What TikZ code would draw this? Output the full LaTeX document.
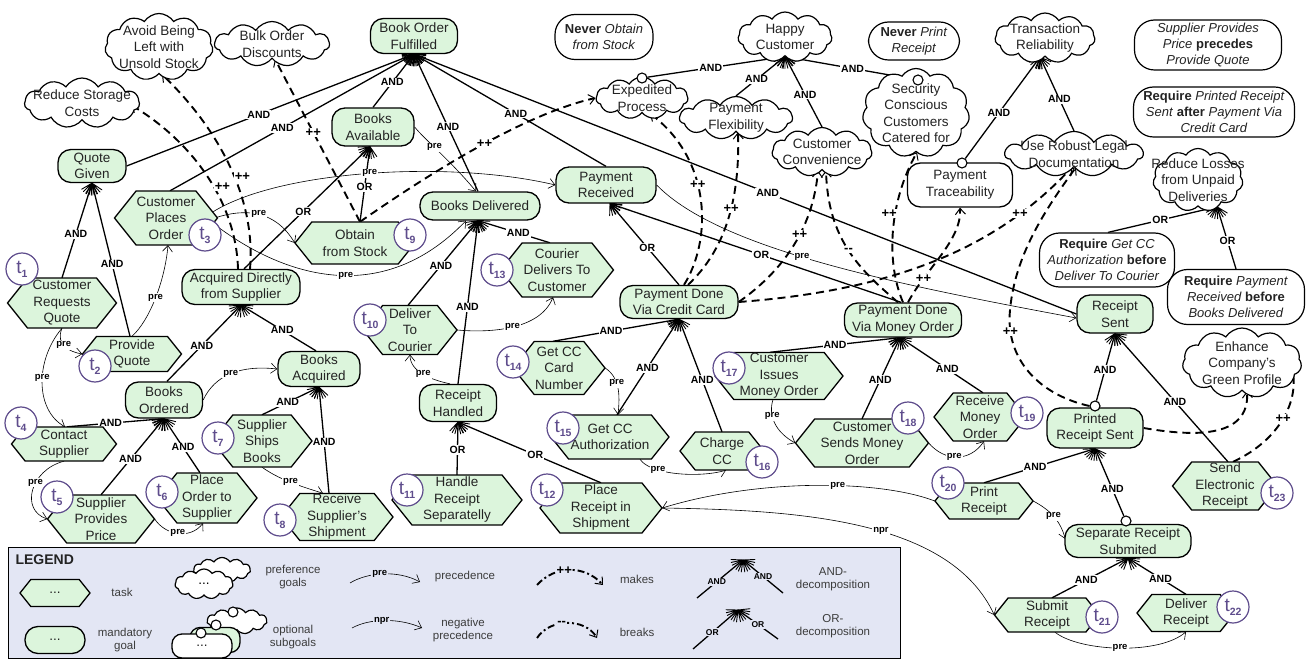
\documentclass[tikz,border=0pt]{standalone}
\usepackage{fontspec}
\setmainfont{Liberation Sans}
\usetikzlibrary{arrows.meta,shapes.symbols,calc}
\pgfdeclarelayer{bg}
\pgfsetlayers{bg,main}
\definecolor{gg}{RGB}{220,245,220}
\definecolor{tp}{RGB}{94,76,140}
\definecolor{lg}{RGB}{227,230,244}
\definecolor{tx}{RGB}{35,35,35}
\definecolor{lt}{RGB}{60,60,60}

\pgfdeclarearrow{
  name = Fan,
  parameters = {\the\pgfarrowlength},
  setup code = {
    \pgfarrowssettipend{0pt}
    \pgfarrowssetlineend{0pt}
    \pgfarrowssetbackend{-\pgfarrowlength}
    \pgfarrowshullpoint{0pt}{0pt}
    \pgfarrowshullpoint{-\pgfarrowlength}{0.8\pgfarrowlength}
    \pgfarrowshullpoint{-\pgfarrowlength}{-0.8\pgfarrowlength}
    \pgfarrowssavethe\pgfarrowlength
  },
  drawing code = {
    \pgfsetdash{}{0pt}
    \pgfsetroundcap
    \pgfsetlinewidth{0.9pt}
    \pgfpathmoveto{\pgfpointorigin}\pgfpathlineto{\pgfpointpolar{138}{\pgfarrowlength}}
    \pgfpathmoveto{\pgfpointorigin}\pgfpathlineto{\pgfpointpolar{152}{\pgfarrowlength}}
    \pgfpathmoveto{\pgfpointorigin}\pgfpathlineto{\pgfpointpolar{166}{\pgfarrowlength}}
    \pgfpathmoveto{\pgfpointorigin}\pgfpathlineto{\pgfpointpolar{194}{\pgfarrowlength}}
    \pgfpathmoveto{\pgfpointorigin}\pgfpathlineto{\pgfpointpolar{208}{\pgfarrowlength}}
    \pgfpathmoveto{\pgfpointorigin}\pgfpathlineto{\pgfpointpolar{222}{\pgfarrowlength}}
    \pgfusepathqstroke
  },
  defaults = {length = 12pt}
}

\tikzset{
  goal/.style={draw, line width=1.3pt, fill=gg, rounded corners=13pt, align=center, inner sep=0pt, text=tx},
  cons/.style={draw, line width=1.2pt, fill=white, rounded corners=20pt, align=center, inner sep=0pt, text=tx, font=\fontsize{13}{16}\selectfont},
  softg/.style={cloud, cloud puffs=11, cloud puff arc=115, cloud ignores aspect, draw, line width=1.2pt, fill=white, inner sep=0pt},
  softtext/.style={align=center, inner sep=0pt, text=tx},
  tasktext/.style={align=center, inner sep=0pt, text=tx},
  taskshape/.style={draw, fill=gg, line width=1.3pt, line join=miter},
  tcirc/.style={circle, draw=tp, line width=1.2pt, fill=white, text=tp, minimum size=32pt, inner sep=0pt},
  optc/.style={circle, draw, fill=white, line width=1.1pt, minimum size=10pt, inner sep=0pt},
  dec/.style={line width=1.3pt, -{Fan[length=12pt]}},
  contr/.style={line width=1.9pt, dash pattern=on 8pt off 5pt, -{Straight Barb[length=6pt,width=10pt,line width=1pt]}},
  prec/.style={line width=0.6pt, -{Straight Barb[length=6pt,width=10pt]}},
  lab/.style={fill=white, inner sep=1pt, font=\fontsize{10.5}{10.5}\selectfont\bfseries},
  labs/.style={inner sep=1pt, font=\fontsize{8.5}{8.5}\selectfont\bfseries},
  prel/.style={fill=white, inner sep=1pt, font=\fontsize{9.5}{9.5}\selectfont\bfseries},
  pl/.style={fill=white, inner sep=0.5pt, font=\fontsize{13}{13}\selectfont\bfseries},
  legtext/.style={align=center, text=lt, font=\fontsize{11.5}{13.5}\selectfont},
}

\newcommand\tsub[1]{{\fontsize{19}{19}\selectfont t}\raisebox{-4pt}{\fontsize{10.5}{10.5}\selectfont\bfseries #1}}
\newcommand\mkhex[6]{%
  \filldraw[taskshape] ({#2-#4/2},{#3}) -- ({#2-#4/2+0.4*#5},{#3-#5/2}) -- ({#2+#4/2-0.4*#5},{#3-#5/2}) -- ({#2+#4/2},{#3}) -- ({#2+#4/2-0.4*#5},{#3+#5/2}) -- ({#2-#4/2+0.4*#5},{#3+#5/2}) -- cycle;
  \node[tasktext,minimum width=#4pt,minimum height=#5pt] (#1) at (#2,#3) {#6};
}
\newcommand\mktask[9]{\mkhex{#1}{#2}{#3}{#4}{#5}{#6}\node[tcirc] (#1c) at (#8,#9) {\tsub{#7}};}
\newcommand\mksoft[6]{%
  \node[softg,minimum width=#4pt,minimum height=#5pt] (#1) at (#2,#3) {};
  \node[softtext] (#1t) at (#2,#3) {#6};
}

\begin{document}
\begin{tikzpicture}[x=1pt,y=-1pt,font=\fontsize{13.5}{16.5}\selectfont]
\useasboundingbox (0,0) rectangle (1311,660);

% ---------- goals
\node[goal,minimum width=87pt,minimum height=35pt] (bof) at (414,36) {Book Order\\Fulfilled};
\node[goal,minimum width=68pt,minimum height=33pt] (qg) at (92,166) {Quote\\Given};
\node[goal,minimum width=82pt,minimum height=38pt] (ba) at (373,127) {Books\\Available};
\node[goal,minimum width=120pt,minimum height=28pt] (bd) at (480,206) {Books Delivered};
\node[goal,minimum width=100pt,minimum height=36pt] (pr) at (606,185) {Payment\\Received};
\node[goal,minimum width=118pt,minimum height=35pt] (ads) at (241,287) {Acquired Directly\\from Supplier};
\node[goal,minimum width=82pt,minimum height=35pt] (bacq) at (319,369) {Books\\Acquired};
\node[goal,minimum width=77pt,minimum height=36pt] (bo) at (164,400) {Books\\Ordered};
\node[goal,minimum width=77pt,minimum height=37pt] (rh) at (458,403) {Receipt\\Handled};
\node[goal,minimum width=118pt,minimum height=33pt] (pcc) at (679,302) {Payment Done\\Via Credit Card};
\node[goal,minimum width=117pt,minimum height=34pt] (pmo) at (903,320) {Payment Done\\Via Money Order};
\node[goal,minimum width=76pt,minimum height=38pt] (rs) at (1115,314) {Receipt\\Sent};
\node[goal,minimum width=96pt,minimum height=40pt] (prs) at (1095,428) {Printed\\Receipt Sent};
\node[goal,minimum width=126pt,minimum height=33pt] (srs) at (1128,541) {Separate Receipt\\Submited};
\node[goal,fill=white,minimum width=105pt,minimum height=44pt] (pt) at (960,185) {Payment\\Traceability};

% ---------- constraints
\node[cons,minimum width=98pt,minimum height=45pt] (c1) at (604,37) {\textbf{Never} \textit{Obtain}\\\textit{from Stock}};
\node[cons,minimum width=91pt,minimum height=38pt] (c2) at (914,41) {\textbf{Never} \textit{Print}\\\textit{Receipt}};
\node[cons,minimum width=147pt,minimum height=50pt] (c3) at (1208,45) {\textit{Supplier Provides}\\\textit{Price} \textbf{precedes}\\\textit{Provide Quote}};
\node[cons,minimum width=161pt,minimum height=50pt] (c4) at (1214,112) {\textbf{Require} \textit{Printed Receipt}\\\textit{Sent} \textbf{after} \textit{Payment Via}\\\textit{Credit Card}};
\node[cons,minimum width=135pt,minimum height=54pt] (c5) at (1107,260) {\textbf{Require} \textit{Get CC}\\\textit{Authorization} \textbf{before}\\\textit{Deliver To Courier}};
\node[cons,minimum width=137pt,minimum height=55pt] (c6) at (1236,297) {\textbf{Require} \textit{Payment}\\\textit{Received} \textbf{before}\\\textit{Books Delivered}};

% ---------- softgoals
\mksoft{sAvoid}{159}{47}{108}{67}{Avoid Being\\Left with\\Unsold Stock}
\mksoft{sBulk}{272}{44}{115}{45}{Bulk Order\\Discounts}
\mksoft{sRsc}{82}{103}{115}{50}{Reduce Storage\\Costs}
\mksoft{sEp}{642}{98}{92}{42}{Expedited\\Process}
\mksoft{sHc}{785}{37}{94}{50}{Happy\\Customer}
\mksoft{sPf}{736}{118}{113}{43}{Payment\\Flexibility}
\mksoft{sCc}{822}{152}{100}{49}{Customer\\Convenience}
\mksoft{sSc}{916}{113}{107}{89}{Security\\Conscious\\Customers\\Catered for}
\mksoft{sTr}{1045}{38}{100}{50}{Transaction\\Reliability}
\mksoft{sUld}{1074}{154}{138}{45}{Use Robust Legal\\Documentation}
\mksoft{sRl}{1198}{180}{90}{63}{Reduce Losses\\from Unpaid\\Deliveries}
\mksoft{sGp}{1242}{363}{119}{70}{Enhance\\Company's\\Green Profile}

% ---------- tasks
\mktask{t1}{62}{303}{109}{50}{Customer\\Requests\\Quote}{1}{22}{269}
\mktask{t2}{132}{354}{99}{35}{Provide\\Quote}{2}{95}{366}
\mktask{t3}{166}{218}{103}{54}{Customer\\Places\\Order}{3}{205}{235}
\mktask{t4}{64}{444}{105}{34}{Contact\\Supplier}{4}{21}{423}
\mktask{t5}{101}{519}{107}{48}{Supplier\\Provides\\Price}{5}{57}{497}
\mktask{t6}{207}{498}{100}{50}{Place\\Order to\\Supplier}{6}{162}{492}
\mktask{t7}{262}{441}{100}{52}{Supplier\\Ships\\Books}{7}{218}{438}
\mktask{t8}{337}{517}{112}{47}{Receive\\Supplier's\\Shipment}{8}{280}{520}
\mktask{t9}{355}{243}{120}{42}{Obtain\\from Stock}{9}{410}{235}
\mktask{t10}{410}{330}{94}{49}{Deliver\\To\\Courier}{10}{370}{320}
\mktask{t11}{457}{500}{130}{50}{Handle\\Receipt\\Separatelly}{11}{407}{490}
\mktask{t12}{601}{508}{122}{50}{Place\\Receipt in\\Shipment}{12}{547}{490}
\mktask{t13}{557}{270}{113}{54}{Courier\\Delivers To\\Customer}{13}{497}{270}
\mktask{t14}{559}{368}{92}{53}{Get CC\\Card\\Number}{14}{513}{362}
\mktask{t15}{610}{437}{118}{44}{Get CC\\Authorization}{15}{563}{428}
\mktask{t16}{722}{451}{84}{38}{Charge\\CC}{16}{762}{462}
\mktask{t17}{779}{376}{128}{47}{Customer\\Issues\\Money Order}{17}{729}{368}
\mktask{t18}{862}{443}{133}{48}{Customer\\Sends Money\\Order}{18}{908}{418}
\mktask{t19}{980}{417}{92}{48}{Receive\\Money\\Order}{19}{1027}{413}
\mktask{t20}{984}{501}{98}{36}{Print\\Receipt}{20}{948}{483}
\mktask{t21}{1047}{615}{105}{34}{Submit\\Receipt}{21}{1102}{617}
\mktask{t22}{1186}{613}{98}{37}{Deliver\\Receipt}{22}{1233}{607}
\mktask{t23}{1225}{486}{105}{48}{Send\\Electronic\\Receipt}{23}{1277}{493}

% ---------- optional markers
\node[optc] (epc) at (642,78) {};
\node[optc] (scc) at (918,80) {};
\node[optc] (ptc) at (962,163) {};
\node[optc] (prsc) at (1095,406) {};
\node[optc] (srsc) at (1126,521) {};

\begin{pgfonlayer}{bg}
% ---------- decompositions
\draw[dec] (qg.east) -- node[lab,pos=0.46]{AND} (bof.south);
\draw[dec] ($(t3.north)+(4,0)$) -- node[lab,pos=0.46]{AND} (bof.south);
\draw[dec] (ba.north) -- node[lab,pos=0.47]{AND} (bof.south);
\draw[dec] ($(bd.north)+(-2,0)$) -- node[lab,pos=0.47]{AND} (bof.south);
\draw[dec] (pr.north) -- node[lab,pos=0.47]{AND} (bof.south);
\draw[dec] (rs.west) -- node[lab,pos=0.466]{AND} (bof.south);
\draw[dec] (t1.north) -- node[lab,pos=0.46]{AND} (qg.south);
\draw[dec] ($(t2.north)+(-2,0)$) -- node[lab,pos=0.47]{AND} (qg.south);
\draw[dec] ($(ads.north)+(3,0)$) -- node[lab,pos=0.47]{OR} ($(ba.south)+(-3,0)$);
\draw[dec] ($(t9.north)+(5,0)$) -- node[lab,pos=0.46]{OR} ($(ba.south)+(-3,0)$);
\draw[dec] ($(bo.north)+(3,0)$) -- node[lab,pos=0.47]{AND} (ads.south);
\draw[dec] ($(bacq.north)+(-3,0)$) -- node[lab,pos=0.45]{AND} (ads.south);
\draw[dec] ($(t4.north)+(3,0)$) -- node[lab,pos=0.45]{AND} (bo.south);
\draw[dec] (t5.north) -- node[lab,pos=0.47]{AND} (bo.south);
\draw[dec] ($(t6.north)+(-7,0)$) -- node[lab,pos=0.47]{AND} (bo.south);
\draw[dec] (t7.north) -- node[lab,pos=0.45]{AND} (bacq.south);
\draw[dec] ($(t8.north)+(-8,0)$) -- node[lab,pos=0.48]{AND} (bacq.south);
\draw[dec] ($(t10.north)+(-2,0)$) -- node[lab,pos=0.47]{AND} ($(bd.south)+(-2,0)$);
\draw[dec] (rh.north) -- node[lab,pos=0.47]{AND} ($(bd.south)+(-2,0)$);
\draw[dec] ($(t13.north)+(-7,0)$) -- node[lab,pos=0.44]{AND} ($(bd.south)+(-2,0)$);
\draw[dec] (t11.north) -- node[lab,pos=0.47]{OR} (rh.south);
\draw[dec] (t12.north) -- node[lab,pos=0.46]{OR} (rh.south);
\draw[dec] (pcc.north) -- node[lab,pos=0.46]{OR} ($(pr.south)+(4,0)$);
\draw[dec] ($(pmo.north)+(-2,0)$) -- node[lab,pos=0.48]{OR} ($(pr.south)+(4,0)$);
\draw[dec] ($(t14.north)+(-6,0)$) -- node[lab,pos=0.46]{AND} (pcc.south);
\draw[dec] ($(t15.north)+(7,0)$) -- node[lab,pos=0.49]{AND} (pcc.south);
\draw[dec] (t16.north) -- node[lab,pos=0.46]{AND} (pcc.south);
\draw[dec] ($(t17.north)+(-9,0)$) -- node[lab,pos=0.5]{AND} ($(pmo.south)+(-3,0)$);
\draw[dec] (t18.north) -- node[lab,pos=0.48]{AND} ($(pmo.south)+(-3,0)$);
\draw[dec] ($(t19.north)+(3,0)$) -- node[lab,pos=0.43]{AND} ($(pmo.south)+(-3,0)$);
\draw[dec] (prsc) -- node[lab,pos=0.46]{AND} (rs.south);
\draw[dec] ($(t23.north)+(3,0)$) -- node[lab,pos=0.47]{AND} (rs.south);
\draw[dec] (t20.north) -- node[lab,pos=0.46]{AND} (prs.south);
\draw[dec] (srsc) -- node[lab,pos=0.4]{AND} (prs.south);
\draw[dec] ($(t21.north)+(5,0)$) -- node[lab,pos=0.45]{AND} (srs.south);
\draw[dec] (t22.north) -- node[lab,pos=0.44]{AND} (srs.south);
\draw[dec] (epc) -- node[lab,pos=0.46]{AND} (sHc.south);
\draw[dec] (sPf.north) -- node[lab,pos=0.42]{AND} (sHc.south);
\draw[dec] (sCc.north) -- node[lab,pos=0.46]{AND} (sHc.south);
\draw[dec] (scc) -- node[lab,pos=0.47]{AND} (sHc.south);
\draw[dec] (ptc) -- node[lab,pos=0.45]{AND} ($(sTr.south)+(-5,0)$);
\draw[dec] (sUld.north) -- node[lab,pos=0.43]{AND} ($(sTr.south)+(-5,0)$);
\draw[dec] ($(c5.north)+(1,0)$) -- node[lab,pos=0.48]{OR} ($(sRl.south)+(19,0)$);
\draw[dec] (c6.north) -- node[lab,pos=0.45]{OR} ($(sRl.south)+(19,0)$);

% ---------- precedence
\draw[prec] (t1.south) .. controls (55,345) and (70,352) .. node[prel,pos=0.45]{pre} (t2.west);
\draw[prec] (t1.south) .. controls (35,360) and (35,410) .. node[prel,pos=0.45]{pre} ($(t4.north)+(1,0)$);
\draw[prec] (t2.north) .. controls (150,320) and (165,280) .. node[prel,pos=0.5]{pre} ($(t3.south)+(2,0)$);
\draw[prec] ($(t3.east)+(-3,0)$) .. controls (245,208) and (275,210) .. node[prel,pos=0.5]{pre} (t9.west);
\draw[prec] ($(t3.east)+(-5,-6)$) .. controls (280,170) and (450,160) .. node[prel,pos=0.5]{pre} (pr.west);
\draw[prec] ($(t3.east)+(-5,5)$) .. controls (280,275) and (380,310) .. node[prel,pos=0.55]{pre} ($(bd.south)+(-14,0)$);
\draw[prec] (ba.east) .. controls (425,140) and (450,160) .. node[prel,pos=0.42]{pre} ($(bd.north)+(-4,0)$);
\draw[prec] (t10.east) .. controls (490,333) and (540,330) .. node[prel,pos=0.5]{pre} ($(t13.south)+(-4,0)$);
\draw[prec] ($(rh.north)+(-8,0)$) .. controls (432,380) and (410,372) .. node[prel,pos=0.5]{pre} (t10.south);
\draw[prec] (t14.east) .. controls (620,378) and (620,395) .. node[prel,pos=0.4]{pre} ($(t15.north)+(8,0)$);
\draw[prec] ($(t15.south)+(30,0)$) .. controls (650,475) and (700,478) .. node[prel,pos=0.3]{pre} ($(t16.south)+(4,0)$);
\draw[prec] ($(t17.south)+(-6,0)$) .. controls (768,415) and (775,432) .. node[prel,pos=0.35]{pre} (t18.west);
\draw[prec] (t18.east) .. controls (945,462) and (970,462) .. node[prel,pos=0.45]{pre} ($(t19.south)+(4,0)$);
\draw[prec] (t20.west) .. controls (880,480) and (760,478) .. node[prel,pos=0.42]{pre} (t12.east);
\draw[prec] (t12.east) .. controls (800,510) and (950,520) .. node[prel,pos=0.55]{npr} (t21.west);
\draw[prec] (t20.east) .. controls (1050,510) and (1060,520) .. node[prel,pos=0.5]{pre} ($(srs.west)+(1,-2)$);
\draw[prec] ($(t21.south)+(8,0)$) .. controls (1080,652) and (1160,655) .. node[prel,pos=0.5]{pre} (t22.south);
\draw[prec] (pr.east) .. controls (720,250) and (900,285) .. node[prel,pos=0.45]{pre} ($(rs.west)+(0,4)$);
\draw[prec] (bo.east) .. controls (215,375) and (240,365) .. node[prel,pos=0.5]{pre} (bacq.west);
\draw[prec] (t7.south) .. controls (280,480) and (300,486) .. node[prel,pos=0.5]{pre} ($(t8.north)+(-14,0)$);
\draw[prec] (t4.south) .. controls (30,470) and (20,510) .. node[prel,pos=0.4]{pre} (t5.west);
\draw[prec] (t5.east) .. controls (165,535) and (190,540) .. node[prel,pos=0.5]{pre} ($(t6.south)+(-4,0)$);

% ---------- contributions
\draw[contr] ($(ads.north)+(-3,0)$) .. controls (236,200) and (190,140) .. node[pl,pos=0.43,xshift=9pt]{++} ($(sRsc.east)+(-9,2)$);
\draw[contr] ($(ads.north)+(9,0)$) .. controls (256,200) and (220,130) .. node[pl,pos=0.45,xshift=8pt]{++} ($(sAvoid.south)+(3,0)$);
\draw[contr] ($(t9.north)+(5,0)$) -- node[pl,pos=0.55]{++} ($(sBulk.south)+(3,0)$);
\draw[contr] ($(t9.north)+(5,0)$) .. controls (420,180) and (520,115) .. node[pl,pos=0.55]{++} (sEp.west);
\draw[contr] ($(pcc.north)+(5,0)$) .. controls (712,240) and (712,160) .. node[pl,pos=0.58]{++} ($(sEp.south)+(8,0)$);
\draw[contr] ($(pcc.north)+(9,0)$) .. controls (725,250) and (740,200) .. node[pl,pos=0.58]{++} ($(sPf.south)+(2,0)$);
\draw[contr] (pcc.east) .. controls (770,280) and (812,240) .. node[pl,pos=0.64]{++} ($(sCc.south)+(-4,0)$);
\draw[contr] ($(pmo.north)+(-5,0)$) .. controls (860,270) and (828,240) .. node[pl,pos=0.5]{-{}-} ($(sCc.south)+(4,0)$);
\draw[contr] (pmo.north) .. controls (885,260) and (890,200) .. node[pl,pos=0.6,xshift=-6pt]{++} ($(sSc.south)+(1,0)$);
\draw[contr] (pcc.east) .. controls (900,290) and (1000,245) .. node[pl,pos=0.78]{++} ($(sUld.south)+(-2,0)$);
\draw[contr] ($(pmo.north)+(5,0)$) .. controls (925,270) and (962,240) .. node[pl,pos=0.25]{++} (pt.south);
\draw[contr] (prsc.west) .. controls (1040,395) and (1005,360) .. node[pl,pos=0.85]{++} (1010,310) .. controls (1015,255) and (1045,210) .. ($(sUld.south)+(2,0)$);
\draw[contr] (prs.east) .. controls (1190,436) and (1250,440) .. ($(sGp.south)+(5,0)$);
\draw[contr] ($(t23.north)+(8,0)$) .. controls (1280,440) and (1300,400) .. node[pl,pos=0.5]{++} ($(sGp.east)+(-10,4)$);
\end{pgfonlayer}

% ---------- legend
\node[draw, fill=lg, line width=1.3pt, minimum width=892pt, minimum height=111pt, anchor=north west, inner sep=0pt] (legend) at (8,547) {};
\node[anchor=west, font=\fontsize{14}{14}\selectfont\bfseries, text=tx] (legt) at (12,560) {LEGEND};
\mkhex{lhex}{55}{593}{70}{27}{...}
\node[goal, minimum width=60pt, minimum height=27pt] (lgoal) at (55,640) {...};
\node[legtext] (ltask) at (122,592) {task};
\node[legtext] (lmand) at (125,640) {mandatory\\goal};
\node[softg, minimum width=57pt, minimum height=25pt] (lc1) at (222,570) {};
\node[softg, minimum width=58pt, minimum height=30pt] (lc2) at (204,584) {...};
\node[legtext] (lpref) at (293,577) {preference\\goals};
\node[softg, minimum width=60pt, minimum height=26pt] (lo1) at (237,621) {};
\node[optc] (lo1c) at (233,612) {};
\node[goal, minimum width=50pt, minimum height=25pt, rounded corners=10pt] (lo2) at (215,640) {};
\node[optc] (lo2c) at (216,625) {};
\node[goal, fill=white, minimum width=60pt, minimum height=24pt, rounded corners=10pt] (lo3) at (202,646) {...};
\node[optc] (lo3c) at (201,633) {};
\node[legtext] (lopt) at (293,637) {optional\\subgoals};
\coordinate (lp1) at (350,583); \coordinate (lp2) at (420,582);
\draw[prec] (lp1) .. controls (368,572) and (398,570) .. node[prel,fill=lg,pos=0.45]{pre} (lp2);
\node[legtext] (lprec) at (465,577) {precedence};
\coordinate (ln1) at (352,628); \coordinate (ln2) at (422,628);
\draw[prec] (ln1) .. controls (370,618) and (400,618) .. node[prel,fill=lg,pos=0.45]{npr} (ln2);
\node[legtext] (lnpr) at (463,630) {negative\\precedence};
\coordinate (lm1) at (537,585); \coordinate (lm2) at (603,585);
\draw[contr, dash pattern=on 7pt off 3pt on 2pt off 3pt] (lm1) .. controls (555,565) and (585,565) .. node[pl,fill=lg,pos=0.42]{++} (lm2);
\node[legtext] (lmakes) at (637,579) {makes};
\coordinate (lb1) at (537,638); \coordinate (lb2) at (597,638);
\draw[contr, dash pattern=on 7pt off 3pt on 2pt off 3pt] (lb1) .. controls (550,618) and (585,618) .. node[pl,fill=lg,pos=0.42]{-{}-} (lb2);
\node[legtext] (lbreaks) at (637,632) {breaks};
\coordinate (la) at (743,560); \coordinate (la1) at (697,598); \coordinate (la2) at (783,593);
\draw[dec] (la1) -- node[labs,fill=lg,pos=0.43]{AND} (la);
\draw[dec] (la2) -- node[labs,fill=lg,pos=0.5]{AND} (la);
\node[legtext] (land) at (833,579) {AND-\\decomposition};
\coordinate (lo) at (738,610); \coordinate (lor1) at (693,649); \coordinate (lor2) at (778,639);
\draw[dec] (lor1) -- node[labs,fill=lg,pos=0.43]{OR} (lo);
\draw[dec] (lor2) -- node[labs,fill=lg,pos=0.5]{OR} (lo);
\node[legtext] (lor) at (833,626) {OR-\\decomposition};
\end{tikzpicture}
\end{document}
